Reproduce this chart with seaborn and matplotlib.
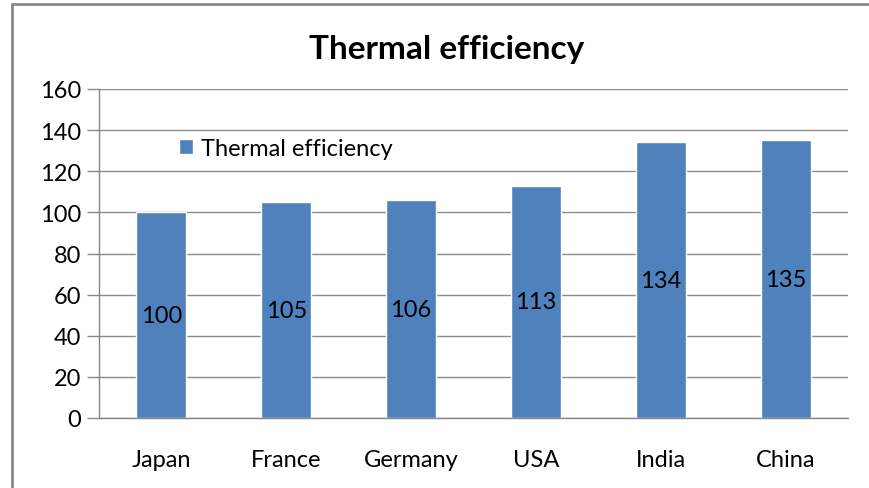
import matplotlib
matplotlib.use("Agg")
import matplotlib.pyplot as plt
import seaborn as sns
import pandas as pd
from matplotlib.lines import Line2D

categories = ["Japan", "France", "Germany", "USA", "India", "China"]
values = [100, 105, 106, 113, 134, 135]
series_name = "Thermal efficiency"
title = "Thermal efficiency"
yticks = [0, 20, 40, 60, 80, 100, 120, 140, 160]

sns.set_theme(style="white")
plt.rcParams['font.family'] = ['Lato', 'DejaVu Sans']

df = pd.DataFrame({"country": categories, "value": values, "series": series_name})

fig = plt.figure(figsize=(8.7, 4.89), dpi=100)
ax = fig.add_axes([99/870, 1-419/489, (848-99)/870, (419-90)/489])

sns.barplot(data=df, x="country", y="value", hue="series", palette=["#4F81BD"],
            width=0.4, ax=ax, saturation=1, legend=True)

for c in ax.containers:
    ax.bar_label(c, labels=[str(v) for v in values], label_type="center",
                 fontsize=17, color="#000000")

ax.set_ylim(0, 160)
ax.set_xlim(-0.5, len(categories) - 0.5)
ax.set_yticks(yticks)
ax.set_yticklabels([str(t) for t in yticks], fontsize=17)
ax.set_xlabel("")
ax.set_ylabel("")
ax.tick_params(axis="x", which="major", length=0, labelsize=17, pad=22, colors="#000000")
ax.set_xticks([i + 0.5 for i in range(-1, len(categories))], minor=True)
ax.tick_params(axis="x", which="minor", length=7, color="#868686", width=1, direction="out")
ax.tick_params(axis="y", length=9, color="#868686", width=1, direction="out", pad=4, left=True,
               labelcolor="#000000")
ax.grid(axis="y", color="#8c8c8c", linewidth=1)
ax.set_axisbelow(True)
for s in ["top", "right"]:
    ax.spines[s].set_visible(False)
for s in ["left", "bottom"]:
    ax.spines[s].set_color("#868686")
    ax.spines[s].set_linewidth(1)

leg = ax.legend(loc="center left", bbox_to_anchor=(0.078, 0.82), frameon=False,
                fontsize=17, handlelength=0.6, handleheight=0.6, handletextpad=0.35,
                labelcolor="#000000")

fig.text(447/870, 1-50/489, title, ha="center", va="center", fontsize=24, fontweight="bold",
         color="#000000")

# outer frame: only left and top edges visible
xl = 12.5/870
yt = 1 - 4.5/489
fig.add_artist(Line2D([xl, xl], [0, yt], transform=fig.transFigure, color="#8a8a8a", linewidth=2))
fig.add_artist(Line2D([xl, 1], [yt, yt], transform=fig.transFigure, color="#8a8a8a", linewidth=2))

fig.savefig("out.png", dpi=100)
